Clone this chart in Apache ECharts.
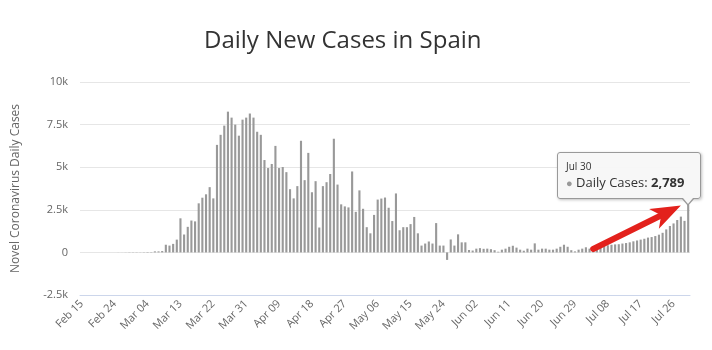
<!DOCTYPE html>
<html>
<head>
<meta charset="utf-8">
<style>
  html, body { margin: 0; padding: 0; background: #fff; }
  #chart { width: 712px; height: 350px; }
</style>
<script src="https://cdn.jsdelivr.net/npm/echarts@6/dist/echarts.min.js"></script>
</head>
<body>
<div id="chart"></div>
<script>
// first day shown, and how many days are in the chart
const startDay = { year: 2020, month: 1, day: 15 }
const dayCount = 167

// daily new cases, one array per month
const febCases = [0, 0, 0, 0, 0, 0, 0, 0, 0, 0, 4, 2, 7, 12, 13]
const marCases = [13, 9, 15, 25, 20, 60, 60, 80, 450, 400, 500, 750, 2000, 1050, 1500, 1870,
  1820, 2880, 3210, 3410, 3830, 3170, 6310, 6900, 7440, 8260, 7910, 7500, 6850, 7790, 7910]
const aprCases = [8150, 7910, 7080, 6900, 5420, 4950, 5190, 6250, 4950, 5010, 4710, 3710, 3170,
  3890, 6550, 4240, 5840, 3530, 4180, 1460, 3890, 4120, 4600, 6670, 3980, 2820, 2700, 2640, 4750, 2380]
const mayCases = [3640, 2560, 1480, 1120, 2200, 3100, 3160, 3220, 2620, 1840, 3460, 1300, 1480,
  1480, 1660, 2080, 1120, 400, 520, 640, 520, 1720, 400, 400, -440, 760, 400, 1060, 590, 590, 140]
const junCases = [110, 220, 250, 210, 220, 190, 130, 40, 160, 220, 330, 390, 280, 160, 100, 220,
  160, 530, 160, 220, 220, 160, 160, 220, 330, 450, 330, 130, 60, 160]
const julCases = [220, 300, 220, 280, 350, 380, 400, 420, 450, 470, 480, 520, 550, 590, 650, 700,
  750, 800, 870, 900, 960, 1040, 1150, 1350, 1550, 1700, 1900, 2100, 1850, 2789]

const yTicks = [-2500, 0, 2500, 5000, 7500, 10000]
const yTickLabels = ['-2.5k', '0', '2.5k', '5k', '7.5k', '10k']

const monthNames = ['Jan', 'Feb', 'Mar', 'Apr', 'May', 'Jun', 'Jul', 'Aug', 'Sep', 'Oct', 'Nov', 'Dec']

// build the date labels
const dates = []
for (let i = 0; i < dayCount; i++) {
  const d = new Date(Date.UTC(startDay.year, startDay.month, startDay.day + i))
  dates.push(monthNames[d.getUTCMonth()] + ' ' + String(d.getUTCDate()).padStart(2, '0'))
}
const cases = [].concat(febCases, marCases, aprCases, mayCases, junCases, julCases)
const lastIndex = cases.length - 1

const chart = echarts.init(document.getElementById('chart'))

// tooltip body, with a little callout pointer at its bottom right corner
function tipHtml(params) {
  const name = params.name.replace(/ 0(\d)$/, ' $1')
  return '<div style="position:relative;width:126px;font-family:\'Open Sans\',sans-serif;">' +
    '<div style="font-size:10px;color:#333;line-height:14px;">' + name + '</div>' +
    '<div style="font-size:13px;color:#333;line-height:19px;white-space:nowrap;">' +
    '<span style="color:#999;font-size:11px;">\u25CF</span> Daily Cases: <b>' +
    params.value.toLocaleString('en-US') + '</b></div>' +
    '<div style="position:absolute;right:-2px;bottom:-14px;width:0;height:0;' +
    'border-left:6px solid transparent;border-right:6px solid transparent;border-top:7px solid #999;"></div>' +
    '<div style="position:absolute;right:-1px;bottom:-12px;width:0;height:0;' +
    'border-left:5px solid transparent;border-right:5px solid transparent;border-top:6px solid #f7f7f7;"></div>' +
    '</div>'
}

const option = {
  animation: false,
  textStyle: { fontFamily: '"Open Sans", sans-serif' },
  title: {
    text: 'Daily New Cases in Spain',
    left: 199,
    top: 24,
    textStyle: { fontSize: 24, fontWeight: 'normal', color: '#333', fontFamily: '"Open Sans", sans-serif' }
  },
  tooltip: {
    trigger: 'item',
    triggerOn: 'none',
    alwaysShowContent: true,
    transitionDuration: 0,
    backgroundColor: 'rgba(247,247,247,0.95)',
    borderColor: '#999',
    borderWidth: 1,
    padding: [6, 8, 6, 8],
    extraCssText: 'border-radius:3px;box-shadow:1px 1px 3px rgba(0,0,0,0.25);overflow:visible;',
    position: function () {
      const p = chart.convertToPixel({ gridIndex: 0 }, [lastIndex, cases[lastIndex]])
      return [p[0] - 131, p[1] - 53]
    },
    formatter: tipHtml
  },
  grid: { left: 80, right: 22, top: 82, bottom: 55 },
  xAxis: {
    type: 'category',
    data: dates,
    axisLine: { onZero: false, lineStyle: { color: '#ccd6eb' } },
    axisTick: { show: false },
    axisLabel: {
      interval: 8,
      rotate: 45,
      margin: 7,
      fontSize: 11,
      color: '#666'
    }
  },
  yAxis: {
    type: 'value',
    min: -2500,
    max: 10000,
    interval: 2500,
    name: 'Novel Coronavirus Daily Cases',
    nameLocation: 'middle',
    nameGap: 58,
    nameTextStyle: { fontSize: 12, color: '#666' },
    axisLine: { show: false },
    axisTick: { show: false },
    axisLabel: {
      fontSize: 11,
      color: '#666',
      margin: 12,
      formatter: v => yTickLabels[yTicks.indexOf(v)]
    },
    splitLine: { lineStyle: { color: '#e6e6e6' } }
  },
  series: [
    {
      name: 'Daily Cases',
      type: 'bar',
      data: cases,
      barWidth: '58%',
      itemStyle: { color: '#999' },
      emphasis: { disabled: true }
    }
  ]
}

chart.setOption(option)

// red hand drawn arrow pointing at the last bar
const tail = chart.convertToPixel({ gridIndex: 0 }, [140, 200])
const tip = chart.convertToPixel({ gridIndex: 0 }, [164, 2750])
const dx = tip[0] - tail[0]
const dy = tip[1] - tail[1]
const len = Math.sqrt(dx * dx + dy * dy)
const ux = dx / len
const uy = dy / len
const headLen = 30
const headHalf = 11
const base = [tip[0] - ux * headLen, tip[1] - uy * headLen]

chart.setOption({
  graphic: [
    {
      type: 'line',
      shape: { x1: tail[0], y1: tail[1], x2: base[0] + ux * 6, y2: base[1] + uy * 6 },
      style: { stroke: '#e3211c', lineWidth: 6, lineCap: 'round' },
      z: 100
    },
    {
      type: 'polygon',
      shape: {
        points: [
          tip,
          [base[0] - uy * headHalf, base[1] + ux * headHalf],
          [base[0] + ux * 8, base[1] + uy * 8],
          [base[0] + uy * headHalf, base[1] - ux * headHalf]
        ]
      },
      style: { fill: '#e3211c' },
      z: 100
    }
  ]
})

chart.dispatchAction({ type: 'showTip', seriesIndex: 0, dataIndex: lastIndex })
</script>
</body>
</html>
